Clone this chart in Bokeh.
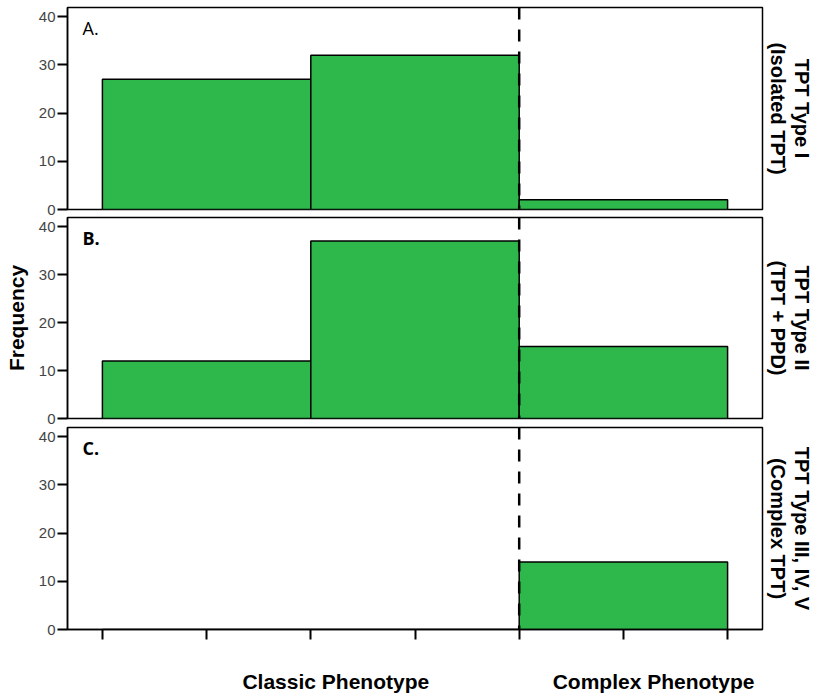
from bokeh.plotting import figure
from bokeh.layouts import column
from bokeh.models import Range1d, FixedTicker, Span, Label, LinearAxis
from bokeh.embed import file_html
from bokeh.resources import INLINE

# ---- data ----
bin_edges = [0, 2, 4, 6]
counts_a = [27, 32, 2]
counts_b = [12, 37, 15]
counts_c = [0, 0, 14]
panel_letters = ["A.", "B.", "C."]
panel_titles = [
    "TPT Type I\n(Isolated TPT)",
    "TPT Type II\n(TPT + PPD)",
    "TPT Type III, IV, V\n(Complex TPT)",
]
y_ticks = [0, 10, 20, 30, 40]
x_ticks = [0, 1, 2, 3, 4, 5, 6]
phenotype_labels = ["Classic Phenotype", "Complex Phenotype"]
phenotype_pos = [2.24, 5.29]
threshold = 4
y_label = "Frequency"

GREEN = "#2EB84B"
FONT = "Liberation Sans"
W = 815
LEFT = 67
RIGHT = 52


def make_panel(counts, letter, title, frame_h, top, bottom, show_x, letter_bold, ylab):
    h = top + frame_h + bottom
    p = figure(width=W, height=h,
               x_range=Range1d(-0.335, 6.335), y_range=Range1d(0, 41.9),
               output_backend="svg", toolbar_location=None,
               min_border_left=LEFT, min_border_right=RIGHT,
               min_border_top=top, min_border_bottom=bottom,
               x_axis_location="below" if show_x else None)
    p.grid.visible = False
    p.outline_line_color = "black"
    p.outline_line_width = 1.5
    p.background_fill_color = "white"
    p.border_fill_color = "white"

    p.quad(left=bin_edges[:-1], right=bin_edges[1:], bottom=0, top=counts,
           fill_color=GREEN, line_color="black", line_width=1.5)

    ya = p.yaxis[0]
    ya.ticker = FixedTicker(ticks=y_ticks)
    ya.major_tick_out = 10
    ya.major_tick_in = 0
    ya.major_tick_line_width = 2
    ya.minor_tick_line_color = None
    ya.axis_line_width = 1.5
    ya.major_label_standoff = 2
    ya.major_label_text_font = FONT
    ya.major_label_text_font_size = "15px"
    ya.major_label_text_color = "#444444"
    if ylab:
        ya.axis_label = ylab
        ya.axis_label_standoff = 8
        ya.axis_label_text_font = FONT
        ya.axis_label_text_font_size = "21px"
        ya.axis_label_text_font_style = "bold"
        ya.axis_label_text_color = "black"

    ra = LinearAxis(ticker=FixedTicker(ticks=[]), axis_line_color=None,
                    major_tick_line_color=None, minor_tick_line_color=None,
                    major_tick_out=0, minor_tick_out=0, major_label_standoff=0,
                    axis_label=title, axis_label_standoff=4,
                    axis_label_text_font=FONT, axis_label_text_font_size="20px",
                    axis_label_text_line_height=1.1,
                    axis_label_text_font_style="bold", axis_label_text_color="black")
    p.add_layout(ra, "right")

    if show_x:
        xa = p.xaxis[0]
        xa.ticker = FixedTicker(ticks=phenotype_pos, minor_ticks=x_ticks)
        xa.major_label_overrides = {pos: lab for pos, lab in zip(phenotype_pos, phenotype_labels)}
        xa.major_tick_line_color = None
        xa.major_tick_out = 0
        xa.major_tick_in = 0
        xa.minor_tick_out = 10
        xa.minor_tick_in = 0
        xa.minor_tick_line_width = 2
        xa.minor_tick_line_color = "black"
        xa.axis_line_width = 1.5
        xa.major_label_standoff = 30
        xa.major_label_text_font = FONT
        xa.major_label_text_font_size = "21px"
        xa.major_label_text_font_style = "bold"
        xa.major_label_text_color = "black"

    p.add_layout(Span(location=threshold, dimension="height", line_color="black",
                      line_width=2.5, line_dash="12 10"))

    p.add_layout(Label(x=15, y=frame_h - 8, x_units="screen", y_units="screen",
                       text=letter, text_baseline="top", text_align="left",
                       text_font="Open Sans", text_font_size="18px",
                       text_font_style="bold" if letter_bold else "normal",
                       text_color="black"))
    return p


pa = make_panel(counts_a, panel_letters[0], panel_titles[0], 202, 7, 7, False, False, None)
pb = make_panel(counts_b, panel_letters[1], panel_titles[1], 201, 1, 8, False, True, y_label)
pc = make_panel(counts_c, panel_letters[2], panel_titles[2], 202, 1, 66, True, True, None)

layout = column(pa, pb, pc, spacing=0)
open("out.html", "w").write(file_html(layout, INLINE))
